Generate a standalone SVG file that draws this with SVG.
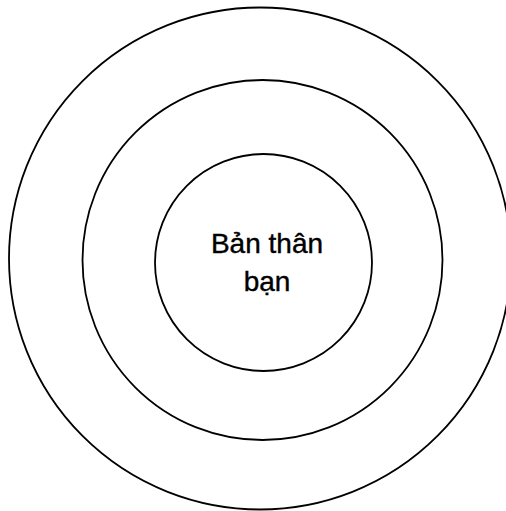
<svg xmlns="http://www.w3.org/2000/svg" width="506" height="511" viewBox="0 0 506 511">
<style>
.ring{fill:none;stroke:#000;stroke-width:1.8}
.lbl{font-family:"Liberation Sans",Arial,sans-serif;font-size:28px;fill:#000;stroke:#000;stroke-width:0.4;text-anchor:middle}
</style>
<rect width="506" height="511" fill="#fff"/>
<g id="outer"><circle class="ring" cx="260" cy="258.5" r="251"/></g>
<g id="middle"><circle class="ring" cx="262.5" cy="260" r="180"/></g>
<g id="inner"><circle class="ring" cx="263.5" cy="262.5" r="108.5"/>
<text class="lbl" x="267" y="253">Bản thân</text>
<text class="lbl" x="267" y="291">bạn</text>
</g>
<g id="connectors"/>
</svg>
